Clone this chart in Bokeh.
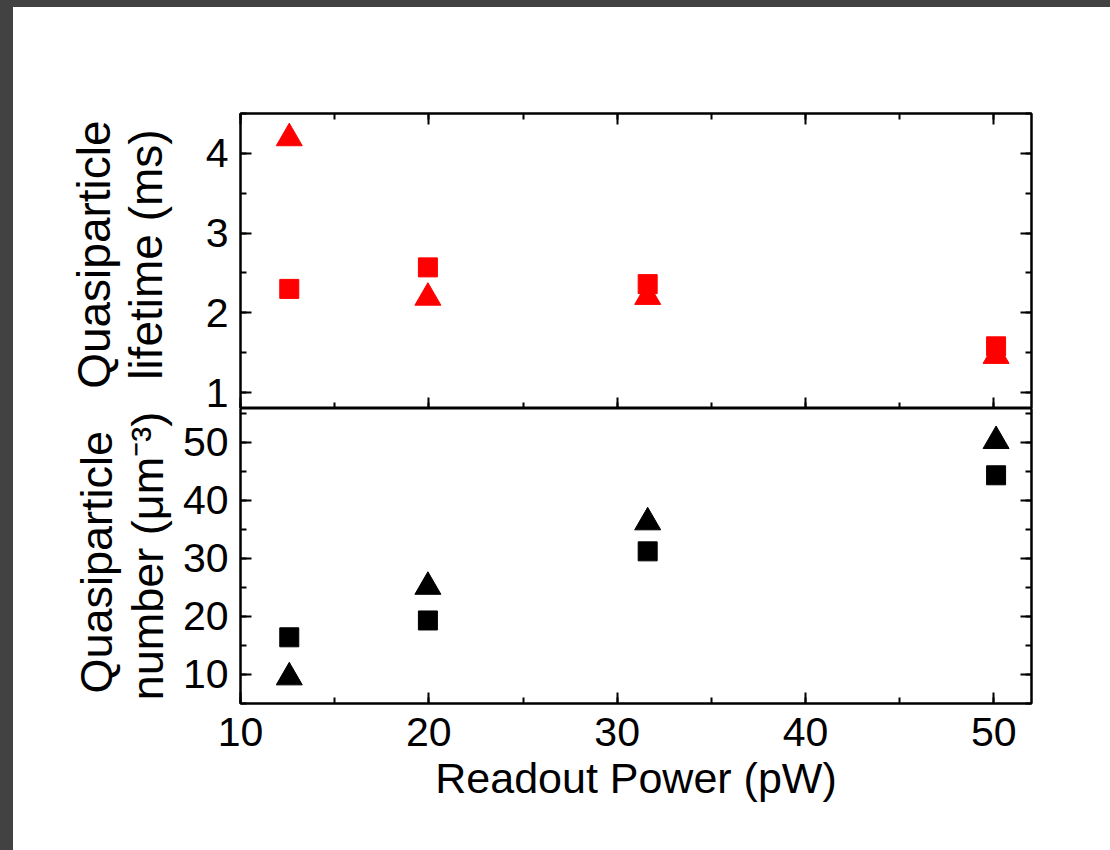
from bokeh.plotting import figure
from bokeh.models import Range1d, LinearAxis, SingleIntervalTicker, Div
from bokeh.layouts import column, row
from bokeh.embed import file_html
from bokeh.resources import INLINE

# ---- data ----
power = [12.59, 19.95, 31.62, 50.12]            # Readout Power (pW)
lifetime_square = [2.30, 2.57, 2.36, 1.58]      # ms
lifetime_triangle = [4.19, 2.19, 2.20, 1.46]    # ms
number_square = [16.4, 19.3, 31.2, 44.3]        # um^-3
number_triangle = [9.5, 25.1, 36.2, 50.2]       # um^-3

NB = "\u00a0"
x_title = "Readout Power (pW)"
y_title_top = NB + "Quasiparticle\n" + NB + "lifetime (ms)"
y_title_bot = "Quasiparticle" + NB + "\nnumber (\u03bcm\u207b\u00b3)"

FONT = "Liberation Sans"
TICK_FS = "41px"
TITLE_FS = "43px"

x_range = Range1d(10, 52)


def style_axis(ax, labels=True, title_fs=TITLE_FS):
    ax.axis_line_color = "black"
    ax.axis_line_width = 2
    ax.major_tick_line_color = "black"
    ax.major_tick_line_width = 2
    ax.minor_tick_line_color = "black"
    ax.minor_tick_line_width = 2
    ax.major_tick_in = 11
    ax.major_tick_out = 0
    ax.minor_tick_in = 6
    ax.minor_tick_out = 0
    ax.major_label_text_font = FONT
    ax.axis_label_text_font = FONT
    ax.axis_label_text_font_style = "normal"
    ax.axis_label_text_color = "black"
    ax.axis_label_text_line_height = 1.0
    if labels:
        ax.major_label_text_color = "black"
        ax.major_label_text_font_size = TICK_FS
        ax.axis_label_text_font_size = title_fs
    else:
        ax.major_label_text_color = None
        ax.major_label_text_font_size = "0px"
        ax.major_label_standoff = 0
        ax.axis_label = None


def make_fig(height, y_range, border_top, border_bottom):
    p = figure(width=1097, height=height, x_range=x_range, y_range=y_range,
               output_backend="svg", toolbar_location=None,
               x_axis_location=None, y_axis_location=None,
               min_border_left=227, min_border_right=79,
               min_border_top=border_top, min_border_bottom=border_bottom)
    p.grid.visible = False
    p.outline_line_color = "black"
    p.outline_line_width = 2
    p.background_fill_color = "white"
    p.border_fill_color = "white"
    return p


# ---- top panel: lifetime ----
p1 = make_fig(401, Range1d(0.8, 4.5), 106, 0)
xt = SingleIntervalTicker(interval=10, num_minor_ticks=2)
yt1 = SingleIntervalTicker(interval=1, num_minor_ticks=2)

ax = LinearAxis(ticker=yt1, axis_label=y_title_top)
style_axis(ax, title_fs="46px")
ax.major_label_standoff = 12
ax.axis_label_standoff = 31
p1.add_layout(ax, "left")
a = LinearAxis(ticker=yt1); style_axis(a, labels=False); p1.add_layout(a, "right")
for loc in ("above", "below"):
    a = LinearAxis(ticker=xt); style_axis(a, labels=False); p1.add_layout(a, loc)

p1.scatter(power, lifetime_triangle, marker="triangle", size=26,
           color="#ff0000", line_color="#ff0000")
p1.scatter(power, lifetime_square, marker="square", size=19,
           color="#ff0000", line_color="#ff0000")

# ---- bottom panel: number ----
p2 = make_fig(442, Range1d(5, 55.8), 0, 147)
yt2 = SingleIntervalTicker(interval=10, num_minor_ticks=2)

ax = LinearAxis(ticker=yt2, axis_label=y_title_bot)
style_axis(ax, title_fs="45px")
ax.major_label_standoff = 12
ax.axis_label_standoff = 7
p2.add_layout(ax, "left")
a = LinearAxis(ticker=yt2); style_axis(a, labels=False); p2.add_layout(a, "right")
bx = LinearAxis(ticker=xt, axis_label=x_title)
style_axis(bx)
bx.major_label_standoff = 14
bx.axis_label_standoff = 5
p2.add_layout(bx, "below")

p2.scatter(power, number_triangle, marker="triangle", size=26,
           color="black", line_color="black")
p2.scatter(power, number_square, marker="square", size=19,
           color="black", line_color="black")

DARK = "#424242"
top_bar = Div(width=1110, height=7, margin=0, styles={"background-color": DARK})
left_bar = Div(width=13, height=843, margin=0, styles={"background-color": DARK})
layout = column(top_bar, row(left_bar, column(p1, p2, spacing=0), spacing=0), spacing=0)

open("out.html", "w").write(file_html(layout, INLINE))
